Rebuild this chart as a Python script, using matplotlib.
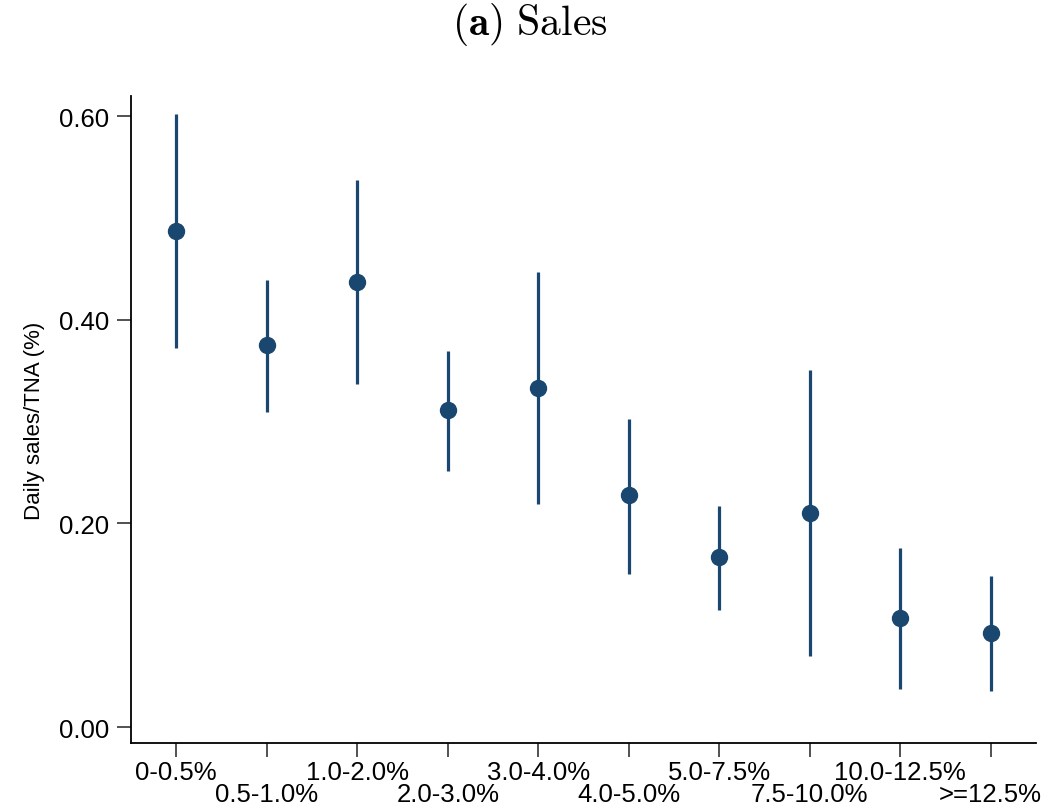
import matplotlib
matplotlib.use("Agg")
import matplotlib.pyplot as plt
import numpy as np

categories = ["0-0.5%", "0.5-1.0%", "1.0-2.0%", "2.0-3.0%", "3.0-4.0%",
              "4.0-5.0%", "5.0-7.5%", "7.5-10.0%", "10.0-12.5%", ">=12.5%"]
estimate = [0.487, 0.375, 0.437, 0.311, 0.333, 0.228, 0.167, 0.210, 0.107, 0.092]
ci_low   = [0.372, 0.310, 0.337, 0.252, 0.219, 0.150, 0.115, 0.070, 0.037, 0.035]
ci_high  = [0.602, 0.439, 0.537, 0.369, 0.447, 0.303, 0.217, 0.351, 0.176, 0.148]
yticks = [0.0, 0.2, 0.4, 0.6]
ytick_labels = ["0.00", "0.20", "0.40", "0.60"]

plt.rcParams['font.family'] = ['Liberation Sans', 'DejaVu Sans']
plt.rcParams['mathtext.fontset'] = 'cm'

color = "#1a476f"
fig = plt.figure(figsize=(10.6, 8.12), dpi=100)
ax = fig.add_axes([131/1060, 1 - 744/812, (1036-131)/1060, (744-97)/812])

x = np.arange(1, len(categories) + 1)
ax.vlines(x, ci_low, ci_high, color=color, lw=2.3)
ax.plot(x, estimate, 'o', color=color, ms=11.5, zorder=3)

ax.set_xlim(0.5, len(categories) + 0.5)
ax.set_ylim(-0.0157, 0.62)
ax.set_yticks(yticks)
ax.set_yticklabels(ytick_labels, fontsize=18.5)

# staggered x labels: even-index on first row (major), odd-index on second row (minor)
ax.xaxis.remove_overlapping_locs = False
ax.set_xticks(x)
ax.set_xticklabels([c if i % 2 == 0 else "" for i, c in enumerate(categories)], fontsize=18.5)
ax.set_xticks(x[1::2], minor=True)
ax.set_xticklabels(categories[1::2], minor=True, fontsize=18.5)

ax.tick_params(axis='both', which='major', length=10, width=1.2, color='#333333')
ax.tick_params(axis='x', which='major', pad=2)
ax.tick_params(axis='x', which='minor', length=0, pad=28)
ax.tick_params(axis='y', pad=6)
for s in ['top', 'right']:
    ax.spines[s].set_visible(False)
for s in ['left', 'bottom']:
    ax.spines[s].set_linewidth(1.3)
ax.set_ylabel("Daily sales/TNA (%)", fontsize=16, labelpad=10)

fig.text(0.5, 1 - 24/812, r"$\mathbf{(a)}\ \mathrm{Sales}$", ha='center', va='center', fontsize=30)

fig.savefig("out.png", dpi=100)
